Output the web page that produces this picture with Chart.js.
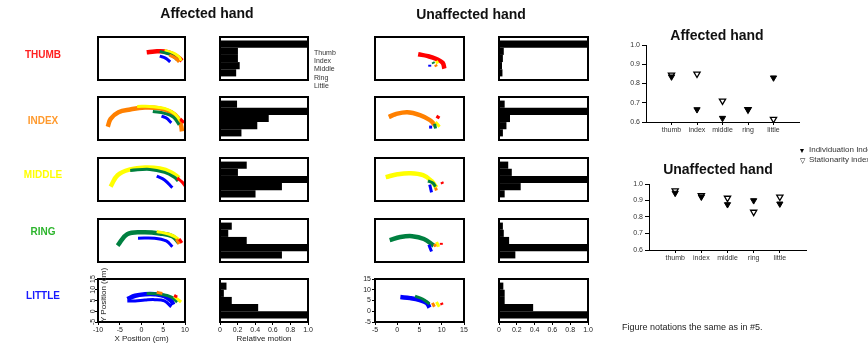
<!DOCTYPE html>
<html>
<head>
<meta charset="utf-8">
<script src="https://cdn.jsdelivr.net/npm/chart.js@4.4.0/dist/chart.umd.min.js"></script>
<style>
  body { margin: 0; background: #fff; font-family: "Liberation Sans", Arial, sans-serif; }
  #fig { position: relative; width: 868px; height: 344px; overflow: hidden; background: #fff; }
  #fig div { position: absolute; white-space: nowrap; will-change: transform; }
  canvas { position: absolute; }
</style>
</head>
<body>
<div id="fig"></div>
<script>
const fingers = ['thumb', 'index', 'middle', 'ring', 'little'];
const fingerLabels = ['Thumb', 'Index', 'Middle', 'Ring', 'Little'];
const rowLabels = ['THUMB', 'INDEX', 'MIDDLE', 'RING', 'LITTLE'];

// relative motion of thumb..little while the row finger moves
const affBars = {
  thumb: [1, 0.2, 0.2, 0.22, 0.18],
  index: [0.19, 1, 0.55, 0.42, 0.24],
  middle: [0.3, 0.2, 1, 0.7, 0.4],
  ring: [0.13, 0.09, 0.3, 1, 0.7],
  little: [0.07, 0.04, 0.13, 0.43, 1]
};
const unaffBars = {
  thumb: [1, 0.05, 0.04, 0.03, 0.035],
  index: [0.06, 1, 0.12, 0.08, 0.04],
  middle: [0.1, 0.14, 1, 0.24, 0.06],
  ring: [0.04, 0.05, 0.11, 1, 0.18],
  little: [0.045, 0.06, 0.06, 0.38, 1]
};

// individuation / stationarity indices
const affIndividuation = [0.835, 0.665, 0.62, 0.665, 0.83];
const affStationarity = [0.845, 0.85, 0.71, 0.665, 0.615];
const unaffIndividuation = [0.945, 0.922, 0.876, 0.9, 0.88];
const unaffStationarity = [0.96, 0.93, 0.915, 0.83, 0.922];

// fingertip paths (cm), moving finger first (drawn underneath)
const affThumbPaths = [
  ['thumb', [[1.2, 7.9], [3.0, 8.3], [5.3, 8.3], [7.3, 7.0], [8.65, 5.2], [9.3, 3.9]]],
  ['middle', [[5.3, 8.8], [7.5, 7.4], [8.65, 5.7], [9.1, 3.9]]],
  ['ring', [[4.2, 8.3], [6.4, 7.0], [7.5, 5.7], [8.2, 4.3]]],
  ['index', [[6.4, 6.6], [7.75, 5.2], [8.65, 3.4]]],
  ['little', [[4.2, 6.1], [5.5, 5.2], [6.6, 3.4]]]
];
const affIndexPaths = [
  ['index', [[-7.75, 1.2], [-7.1, 4.8], [-5.3, 7.9], [-2.6, 9.2], [0.8, 10.1], [4.2, 9.7], [6.85, 7.9], [8.4, 5.2], [9.1, 1.7], [9.3, -1.0]]],
  ['middle', [[-1.0, 10.6], [1.9, 10.6], [5.3, 9.7], [7.5, 7.4], [8.9, 3.9]]],
  ['ring', [[2.6, 8.3], [5.3, 7.4], [7.3, 5.7], [8.65, 2.1]]],
  ['thumb', [[8.9, 4.8], [9.8, 3.0]]],
  ['little', [[4.6, 6.1], [5.7, 5.2], [6.85, 3.0]]]
];
const affMiddlePaths = [
  ['middle', [[-7.1, 1.7], [-5.5, 7.0], [-2.6, 9.7], [0.8, 10.6], [4.2, 10.1], [6.85, 8.3], [8.65, 5.7]]],
  ['ring', [[-2.6, 9.2], [1.9, 9.7], [5.3, 8.3], [7.5, 6.1], [8.4, 4.3]]],
  ['little', [[3.5, 6.6], [5.3, 4.8], [7.1, 1.2]]],
  ['thumb', [[8.2, 5.7], [9.3, 3.9], [10, 2.1]]]
];
const affRingPaths = [
  ['ring', [[-5.5, 2.6], [-3.3, 7.9], [0.3, 8.8], [4.2, 8.3], [7.1, 7.0], [8.65, 3.9]]],
  ['middle', [[3.5, 9.2], [6.4, 7.9], [8.2, 6.1], [9.1, 3.9]]],
  ['little', [[-0.8, 6.1], [3.0, 6.1], [5.7, 4.8], [7.1, 2.1]]],
  ['index', [[8.0, 5.7], [8.65, 3.4]]],
  ['thumb', [[8.65, 5.7], [9.3, 3.9]]]
];
const affLittlePaths = [
  ['little', [[-3.26, 5.67], [-1.46, 7.2], [0.79, 7.9], [3.03, 7.9], [5.28, 7.0], [6.85, 4.8], [7.3, 3.0]]],
  ['little', [[-3.26, 4.8], [-1.46, 4.8], [0.79, 5.2], [3.03, 5.4], [5.28, 4.8], [6.85, 2.1]]],
  ['ring', [[1.2, 8.3], [4.2, 7.9], [6.9, 6.6], [8.2, 4.3]]],
  ['index', [[3.5, 8.8], [4.8, 8.3]]],
  ['middle', [[7.5, 7.0], [9.1, 4.3]]],
  ['thumb', [[7.5, 7.4], [8.2, 6.6]]]
];
const unaffThumbPaths = [
  ['thumb', [[4.7, 7.0], [6.9, 6.1], [8.8, 4.8], [10.2, 3.0], [10.6, 0.3]]],
  ['middle', [[8.8, 3.9], [9.1, 2.6]]],
  ['ring', [[8.0, 3.4], [8.2, 2.6]]],
  ['index', [[8.6, 2.1], [8.8, 1.2]]],
  ['little', [[7.3, 2.1], [7.3, 1.2]]]
];
const unaffIndexPaths = [
  ['index', [[-1.9, 5.7], [-0.4, 7.0], [2.25, 7.9], [5.1, 6.6], [7.3, 4.3], [8.6, 1.7]]],
  ['middle', [[8.6, 3.4], [9.5, 1.2]]],
  ['ring', [[8.4, 2.6], [8.6, 0.3]]],
  ['thumb', [[8.8, 6.1], [9.5, 5.2]]],
  ['little', [[7.5, 1.7], [7.5, 0.3]]]
];
const unaffMiddlePaths = [
  ['middle', [[-2.6, 6.1], [0.05, 7.4], [2.9, 7.9], [5.8, 7.0], [7.7, 4.3], [8.8, 1.2]]],
  ['ring', [[6.9, 4.3], [8.0, 3.4], [8.6, 1.7]]],
  ['index', [[8.6, 1.2], [8.8, -0.1]]],
  ['little', [[7.3, 2.6], [7.7, -1.0]]],
  ['thumb', [[10, 3.9], [10.2, 3.0]]]
];
const unaffRingPaths = [
  ['ring', [[-1.7, 5.2], [0.7, 6.6], [3.35, 7.0], [6.0, 5.7], [8.2, 2.6]]],
  ['middle', [[8.85, 4.3], [9.3, 2.1]]],
  ['index', [[8.4, 3.4], [8.6, 2.1]]],
  ['little', [[7.1, 3.0], [7.7, -0.1]]],
  ['thumb', [[9.9, 3.9], [9.9, 3.0]]]
];
const unaffLittlePaths = [
  ['little', [[0.7, 6.6], [2.9, 6.1], [5.05, 5.2], [6.6, 3.9], [7.25, 1.7]]],
  ['ring', [[4.0, 7.0], [5.7, 5.7], [7.25, 3.4]]],
  ['index', [[7.9, 3.9], [8.35, 2.1]]],
  ['middle', [[8.8, 4.3], [9.45, 2.1]]],
  ['thumb', [[9.9, 3.9], [10.1, 3.0]]]
];

const affPaths = [affThumbPaths, affIndexPaths, affMiddlePaths, affRingPaths, affLittlePaths];
const unaffPaths = [unaffThumbPaths, unaffIndexPaths, unaffMiddlePaths, unaffRingPaths, unaffLittlePaths];

const colors = { thumb: '#ff0000', index: '#ff8000', middle: '#ffff00', ring: '#008040', little: '#0000ff' };
const labelColors = ['#ff2020', '#ff9a2e', '#ffff00', '#2db52d', '#1a1aff'];

Chart.defaults.font.family = '"Liberation Sans", Arial, sans-serif';
Chart.defaults.color = '#222';

const fig = document.getElementById('fig');
const rowTops = [36, 96, 157, 218, 278];
const boxH = 45;

// centred ('t') or left-aligned ('l') text, y is the text's middle
function text(cls, x, y, str, size, css) {
  const d = document.createElement('div');
  d.style.fontSize = size + 'px';
  d.style.lineHeight = size + 'px';
  d.style.top = Math.round(y - size / 2) + 'px';
  if (cls === 't') {
    d.style.left = (x - 150) + 'px';
    d.style.width = '300px';
    d.style.textAlign = 'center';
  } else {
    d.style.left = x + 'px';
  }
  d.textContent = str;
  Object.assign(d.style, css || {});
  fig.appendChild(d);
  return d;
}

function place(left, top, w, h, config) {
  const c = document.createElement('canvas');
  c.width = w; c.height = h;
  c.style.left = left + 'px';
  c.style.top = top + 'px';
  fig.appendChild(c);
  config.options.responsive = false;
  config.options.animation = false;
  config.options.plugins = Object.assign({ legend: { display: false }, tooltip: { enabled: false } }, config.options.plugins);
  return new Chart(c, config);
}

// black box round the plot area
const frame = {
  id: 'frame',
  afterDatasetsDraw(chart) {
    const a = chart.chartArea, ctx = chart.ctx;
    ctx.save();
    ctx.strokeStyle = '#000';
    ctx.lineWidth = 2;
    ctx.strokeRect(a.left, a.top, a.right - a.left, a.bottom - a.top);
    ctx.restore();
  }
};

const tickGrid = { drawOnChartArea: false, color: '#000', tickLength: 3 };

// panel placement: plot area lands on [left+1, left+w-1] x [top+1, top+h-1]
function panel(left, top, w, yw, xh, config) {
  if (xh) {
    const lw = yw || 7;
    config.options.layout = { padding: { top: 7, right: 7, left: yw ? 0 : 7, bottom: 0 } };
    return place(left + 1 - lw, top - 6, lw + w - 2 + 7, 7 + boxH - 2 + xh, config);
  }
  config.options.layout = { padding: 1 };
  return place(left, top, w, boxH, config);
}

function trajChart(left, top, w, paths, xMin, labelled, xTitle, rotY) {
  const yw = labelled ? 14 : 0;
  const xh = labelled ? (xTitle ? 22 : 13) : 0;
  const datasets = paths.map(([f, pts], i) => ({
    data: pts.map(([x, y]) => ({ x, y })),
    borderColor: colors[f],
    borderWidth: i === 0 ? 4.5 : 3,
    pointRadius: 0,
    tension: 0.4,
    fill: false
  })).reverse();
  panel(left, top, w, yw, xh, {
    type: 'line',
    data: { datasets },
    options: {
      scales: {
        x: {
          type: 'linear', min: xMin, max: xMin + 20, display: labelled,
          ticks: { stepSize: 5, font: { size: 7 }, padding: 1, maxRotation: 0, autoSkip: false },
          grid: tickGrid, border: { display: false },
          title: { display: !!xTitle, text: xTitle || '', font: { size: 8 }, padding: 0 },
          afterFit(s) { s.height = xh; }
        },
        y: {
          type: 'linear', min: -5, max: 15, display: labelled,
          ticks: {
            stepSize: 5, font: { size: 7 }, autoSkip: false,
            minRotation: rotY, maxRotation: rotY,
            padding: rotY ? -2 : 1, crossAlign: rotY ? 'center' : 'near'
          },
          grid: tickGrid, border: { display: false },
          afterFit(s) { s.width = yw; }
        }
      }
    },
    plugins: [frame]
  });
}

function barChart(left, top, w, vals, labelled, xTitle) {
  const xh = labelled ? (xTitle ? 22 : 13) : 0;
  panel(left, top, w, 0, xh, {
    type: 'bar',
    data: {
      datasets: [{
        data: vals.map((v, i) => ({ x: v, y: i })),
        backgroundColor: '#000',
        barThickness: 6.5
      }]
    },
    options: {
      indexAxis: 'y',
      scales: {
        x: {
          type: 'linear', min: 0, max: 1, display: labelled,
          ticks: { stepSize: 0.2, font: { size: 7 }, padding: 1, maxRotation: 0, autoSkip: false },
          grid: tickGrid, border: { display: false },
          title: { display: !!xTitle, text: xTitle || '', font: { size: 8 }, padding: 0 },
          afterFit(s) { s.height = xh; }
        },
        y: {
          type: 'linear', min: -1, max: 5, reverse: true, display: false,
          offset: false, grid: { offset: false }, ticks: { stepSize: 1 }
        }
      }
    },
    plugins: [frame]
  });
}

function indexChart(plotLeft, plotTop, plotW, plotH, indiv, stat) {
  const yw = 24, xh = 16;
  const pts = arr => arr.map((v, i) => ({ x: i + 1, y: v }));
  place(plotLeft - yw, plotTop - 7, yw + plotW + 7, 7 + plotH + xh, {
    type: 'scatter',
    data: {
      datasets: [
        { data: pts(indiv), pointStyle: 'triangle', pointRotation: 180, pointRadius: 3.6,
          pointBackgroundColor: '#000', pointBorderColor: '#000', pointBorderWidth: 1 },
        { data: pts(stat), pointStyle: 'triangle', pointRotation: 180, pointRadius: 3.6,
          pointBackgroundColor: '#fff', pointBorderColor: '#000', pointBorderWidth: 1.3 }
      ]
    },
    options: {
      layout: { padding: { top: 7, right: 7, left: 0, bottom: 0 } },
      clip: false,
      scales: {
        x: {
          type: 'linear', min: 0, max: 6,
          afterBuildTicks(s) { s.ticks = fingers.map((_, i) => ({ value: i + 1 })); },
          ticks: { callback: v => fingers[v - 1], font: { size: 7 }, color: '#333', padding: 1, maxRotation: 0, autoSkip: false },
          grid: { drawOnChartArea: false, color: '#000', tickLength: 3 },
          border: { color: '#000', width: 1 },
          afterFit(s) { s.height = xh; }
        },
        y: {
          type: 'linear', min: 0.6, max: 1.0,
          ticks: { stepSize: 0.1, callback: v => v.toFixed(1), font: { size: 7 }, color: '#333', padding: 2 },
          grid: { drawOnChartArea: false, color: '#000', tickLength: 4 },
          border: { color: '#000', width: 1 },
          afterFit(s) { s.width = yw; }
        }
      }
    }
  });
}

const bold = { fontWeight: 'bold', color: '#111' };

// column titles and row labels
text('t', 207, 13, 'Affected hand', 14, bold);
text('t', 471, 14, 'Unaffected hand', 14, bold);
const rowLabelY = [55, 121, 175, 232, 296];
rowLabels.forEach((r, i) => text('t', 43, rowLabelY[i], r, 10, { fontWeight: 'bold', color: labelColors[i] }));
const fingerLabelY = [52, 60, 68, 77, 85];
fingerLabels.forEach((f, i) => text('l', 314, fingerLabelY[i], f, 7, { color: '#333' }));

fingers.forEach((f, i) => {
  const last = i === fingers.length - 1;
  trajChart(97, rowTops[i], 89, affPaths[i], -10, last, 'X Position (cm)', 90);
  barChart(219, rowTops[i], 90, affBars[f], last, 'Relative motion');
  trajChart(374, rowTops[i], 91, unaffPaths[i], -5, last, '', 0);
  barChart(498, rowTops[i], 91, unaffBars[f], last, '');
});
const yTitle = text('t', 104, 295, 'Y Position (cm)', 8, { color: '#222' });
yTitle.style.transform = 'rotate(-90deg)';

// index summary plots
text('t', 717, 35, 'Affected hand', 14, bold);
indexChart(646, 45, 153, 77, affIndividuation, affStationarity);
text('t', 718, 169, 'Unaffected hand', 14, bold);
indexChart(649, 184, 157, 66, unaffIndividuation, unaffStationarity);

text('t', 802, 150, '\u25BC', 7, { color: '#000' });
text('l', 809, 150, 'Individuation Index', 8, { color: '#333' });
text('t', 802, 160, '\u25BD', 7, { color: '#000' });
text('l', 809, 160, 'Stationarity index', 8, { color: '#333' });

text('l', 622, 327, 'Figure notations the same as in #5.', 9, { color: '#222' });
</script>
</body>
</html>
